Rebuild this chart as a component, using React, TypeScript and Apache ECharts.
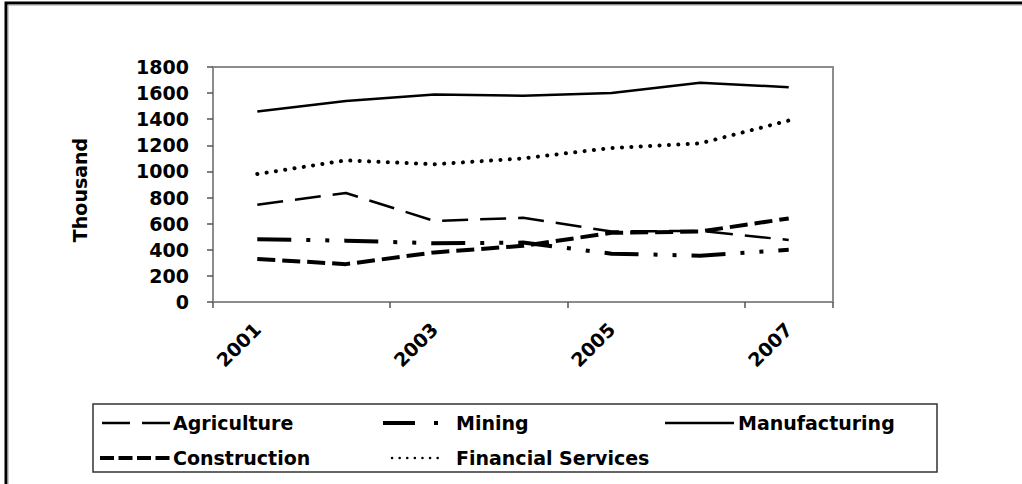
import React, { useEffect, useRef } from "react";
import * as echarts from "echarts";

const years = ["2001", "2002", "2003", "2004", "2005", "2006", "2007"];
const agriculture = [745, 835, 620, 645, 540, 545, 475];
const mining = [480, 470, 450, 455, 370, 355, 400];
const manufacturing = [1460, 1540, 1590, 1580, 1600, 1680, 1645];
const construction = [330, 290, 380, 430, 530, 540, 640];
const financial = [980, 1085, 1055, 1100, 1180, 1215, 1390];
const yAxisName = "Thousand";

const FONT = "'DejaVu Sans', 'Liberation Sans', Arial, sans-serif";

export default function App() {
  const ref = useRef<HTMLDivElement>(null);
  useEffect(() => {
    if (!ref.current) return;
    const chart = echarts.init(ref.current, null, { renderer: "svg" });
    const textStyle = {
      fontFamily: FONT,
      fontWeight: "bold" as const,
      fontSize: 19,
      color: "#000",
      lineHeight: 20,
    };
    const legendBase = {
      orient: "vertical" as const,
      top: 413,
      itemWidth: 68,
      itemHeight: 14,
      itemGap: 15,
      padding: 0,
      selectedMode: false,
      icon: "rect",
      itemStyle: { opacity: 0 },
      lineStyle: { opacity: 0 },
      textStyle,
    };
    const mk = (name: string, data: number[], lineStyle: any) => ({
      name,
      type: "line",
      data,
      symbol: "none",
      showSymbol: false,
      lineStyle: { color: "#000", ...lineStyle },
      itemStyle: { color: "#000" },
    });
    const sample = (x1: number, x2: number, y: number, style: any) => ({
      type: "line",
      shape: { x1, y1: y, x2, y2: y },
      style: { stroke: "#000", ...style },
      z: 20,
    });
    chart.setOption({
      animation: false,
      backgroundColor: "#fff",
      grid: {
        left: 213,
        right: 189,
        top: 67,
        bottom: 182,
        show: true,
        borderColor: "#8c8c8c",
        borderWidth: 2,
        backgroundColor: "transparent",
      },
      legend: [
        { ...legendBase, left: 100, data: ["Agriculture", "Construction"] },
        { ...legendBase, left: 383, data: ["Mining", "Financial Services"] },
        { ...legendBase, left: 665, data: ["Manufacturing"] },
      ],
      xAxis: {
        type: "category",
        data: years,
        boundaryGap: true,
        axisLine: { lineStyle: { color: "#8c8c8c", width: 2 } },
        axisTick: {
          show: true,
          interval: 1,
          length: 6,
          lineStyle: { color: "#555", width: 1.5 },
        },
        axisLabel: {
          interval: 1,
          rotate: 45,
          margin: 24,
          ...textStyle,
        },
        splitLine: { show: false },
      },
      yAxis: {
        type: "value",
        min: 0,
        max: 1800,
        interval: 200,
        axisLine: { show: true, lineStyle: { color: "#8c8c8c", width: 2 } },
        axisTick: { show: true, length: 6, lineStyle: { color: "#555", width: 1.5 } },
        axisLabel: { margin: 24, formatter: (v: number) => String(v), ...textStyle },
        splitLine: { show: false },
      },
      graphic: [
        {
          type: "text",
          x: 80,
          y: 190,
          rotation: Math.PI / 2,
          style: {
            text: yAxisName,
            fontFamily: FONT,
            fontWeight: "bold",
            fontSize: 19,
            fill: "#000",
            textAlign: "center",
            textVerticalAlign: "middle",
          },
        },
        {
          type: "rect",
          shape: { x: 93, y: 404, width: 844, height: 68 },
          style: { fill: "none", stroke: "#333", lineWidth: 1.5 },
          z: 10,
        },
        sample(102, 170, 423, { lineWidth: 2.5, lineDash: [28, 12] }),
        sample(383, 440, 423, { lineWidth: 4, lineDash: [32, 19, 4, 30] }),
        sample(665, 734, 423, { lineWidth: 2.5 }),
        sample(100, 171, 458, { lineWidth: 4, lineDash: [14, 4.5] }),
        sample(392, 444, 458, { lineWidth: 2.5, lineDash: [0.1, 7.5], lineCap: "round" }),
        {
          type: "rect",
          shape: { x: 6, y: 3, width: 1100, height: 600 },
          style: { fill: "none", stroke: "#000", lineWidth: 3 },
          z: 10,
        },
        {
          type: "rect",
          shape: { x: 8, y: 5, width: 1100, height: 600 },
          style: { fill: "none", stroke: "#999", lineWidth: 1 },
          z: 10,
        },
      ],
      series: [
        mk("Agriculture", agriculture, { width: 2.5, type: [26, 12], cap: "butt" }),
        mk("Mining", mining, { width: 4, type: [34, 15, 4, 15, 4, 15], cap: "butt" }),
        mk("Manufacturing", manufacturing, { width: 2.5, type: "solid" }),
        mk("Construction", construction, { width: 4, type: [18, 7], cap: "butt" }),
        mk("Financial Services", financial, { width: 4, type: [0.1, 9.3], cap: "round" }),
      ],
    });
    return () => chart.dispose();
  }, []);
  return (
    <div
      ref={ref}
      style={{ position: "absolute", left: 0, top: 0, width: 1022, height: 484, background: "#fff" }}
    />
  );
}
